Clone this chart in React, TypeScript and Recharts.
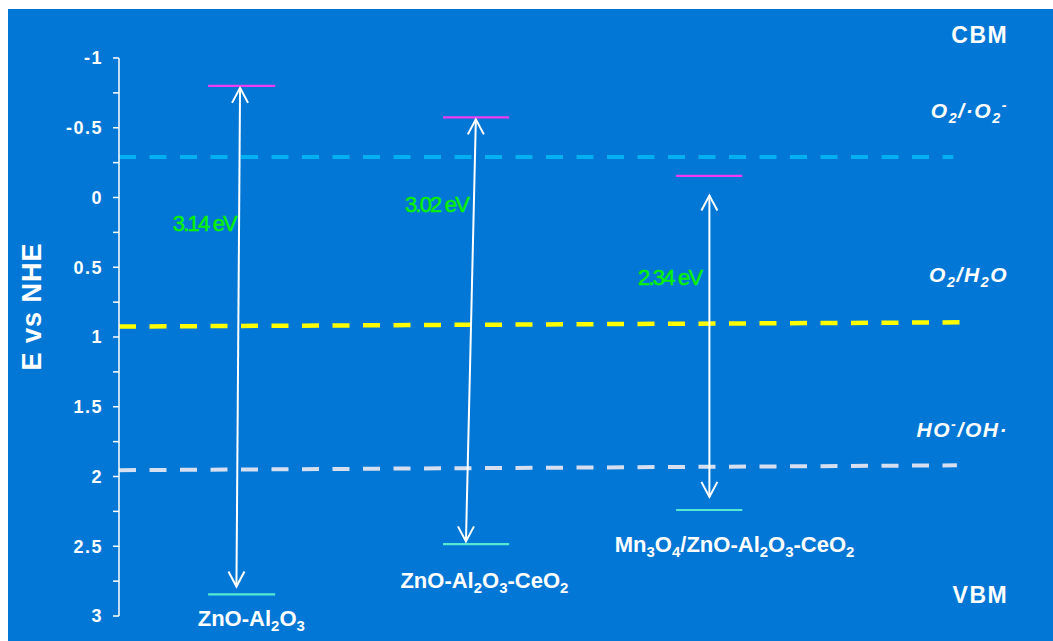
import React from "react";
import { ComposedChart, Line, XAxis, YAxis, ReferenceDot, Label } from "recharts";

// ---------- data ----------
const materials = ["ZnO-Al2O3", "ZnO-Al2O3-CeO2", "Mn3O4/ZnO-Al2O3-CeO2"];
const cbEdges = [-0.8, -0.575, -0.155];
const vbEdges = [2.845, 2.485, 2.24];
const levelFrom = [9.9, 36.0, 61.9];
const levelTo = [17.35, 43.35, 69.25];
const bandGaps = ["3.14 eV", "3.02 eV", "2.34 eV"];
const arrowTopX = [13.45, 39.65, 65.6];
const arrowTopY = [-0.786, -0.56, -0.014];
const arrowBottomX = [13.05, 38.55, 65.6];
const arrowBottomY = [2.789, 2.465, 2.146];
const gapLabelX = [13.0, 38.8, 64.7];
const gapLabelY = [0.243, 0.101, 0.625];
const materialLabelX = [14.7, 40.6, 68.4];
const materialLabelY = [3.071, 2.798, 2.54];

const redoxNames = ["O2/·O2-", "O2/H2O", "HO-/OH·"];
const redoxStartY = [-0.29, 0.925, 1.955];
const redoxEndY = [-0.29, 0.895, 1.92];
const redoxEndX = [92.7, 93.4, 93.1];
const redoxLabelY = [-0.573, 0.603, 1.716];
const edgeNames = ["CBM", "VBM"];
const edgeLabelY = [-1.104, 2.908];
const sideLabelX = 98.8;

const yTicks = [-1, -0.75, -0.5, -0.25, 0, 0.25, 0.5, 0.75, 1, 1.25, 1.5, 1.75, 2, 2.25, 2.5, 2.75, 3];
const majorTicks = [-1, -0.5, 0, 0.5, 1, 1.5, 2, 2.5, 3];

// ---------- styles ----------
const BG = "#0377d5";
const FONT = "'Liberation Sans', Arial, sans-serif";
const redoxColors = ["#00b0f0", "#ffff00", "#d6dff0"];
const redoxWidths = [4, 4.5, 4];
const CB_COLOR = "#f03cf0";
const VB_COLOR = "#55e8d2";
const GREEN = "#08f008";

function richSpans(text: string, size: number, supMinus: boolean) {
  const groups: { mode: string; s: string }[] = [];
  for (const ch of text) {
    let mode = "n";
    if (/[0-9]/.test(ch)) mode = "sub";
    else if (ch === "-" && supMinus) mode = "sup";
    const last = groups[groups.length - 1];
    if (last && last.mode === mode) last.s += ch;
    else groups.push({ mode, s: ch });
  }
  let cur = 0;
  return groups.map((g, i) => {
    const target = g.mode === "sub" ? size * 0.25 : g.mode === "sup" ? -size * 0.38 : 0;
    const dy = target - cur;
    cur = target;
    return (
      <tspan key={i} dy={dy} fontSize={g.mode === "n" ? size : size * 0.68}>
        {g.s}
      </tspan>
    );
  });
}

const renderTick = (props: any) => {
  const { x, y, payload } = props;
  if (!majorTicks.includes(payload.value)) return <g />;
  return (
    <text
      x={x}
      y={y}
      dy="0.36em"
      textAnchor="end"
      fill="#ffffff"
      fontWeight="bold"
      fontSize={18}
      letterSpacing={1.5}
      fontFamily={FONT}
    >
      {String(payload.value)}
    </text>
  );
};

const arrowDot = (props: any) => {
  const { cx, cy, index } = props;
  const s = index === 0 ? 1 : -1;
  return (
    <path
      key={`ah${index}`}
      d={`M${cx - 8},${cy + 15 * s} L${cx},${cy} L${cx + 8},${cy + 15 * s}`}
      fill="none"
      stroke="#ffffff"
      strokeWidth={2}
    />
  );
};

export default function App() {
  return (
    <div style={{ paddingLeft: 8, paddingTop: 9, background: "#ffffff", width: 1053, height: 641, boxSizing: "border-box" }}>
      <style>{`body{margin:0;overflow:hidden;}`}</style>
      <div style={{ width: 1045, height: 632, background: BG }}>
        <ComposedChart width={1045} height={632} margin={{ top: 49, right: 34, bottom: 25, left: 0 }}>
          <XAxis type="number" dataKey="x" domain={[0, 100]} hide />
          <YAxis
            type="number"
            dataKey="y"
            domain={[-1, 3]}
            reversed
            ticks={yTicks}
            interval={0}
            width={111}
            tick={renderTick}
            tickSize={6}
            tickMargin={10}
            axisLine={{ stroke: "#ffffff", strokeWidth: 1.5 }}
            tickLine={{ stroke: "#ffffff", strokeWidth: 1.5 }}
          >
            <Label
              content={() => (
                <text
                  x={33.3}
                  y={297.5}
                  transform="rotate(-90 33.3 297.5)"
                  textAnchor="middle"
                  fill="#ffffff"
                  fontWeight="bold"
                  fontSize={27}
                  letterSpacing={1}
                  fontFamily={FONT}
                >
                  E vs NHE
                </text>
              )}
            />
          </YAxis>

          {redoxNames.map((n, i) => (
            <Line
              key={`redox${i}`}
              data={[
                { x: 0, y: redoxStartY[i] },
                { x: redoxEndX[i], y: redoxEndY[i] },
              ]}
              dataKey="y"
              type="linear"
              stroke={redoxColors[i]}
              strokeWidth={redoxWidths[i]}
              strokeDasharray="17 13.5"
              dot={false}
              activeDot={false}
              isAnimationActive={false}
            />
          ))}

          {materials.map((m, i) => (
            <Line
              key={`cb${i}`}
              data={[
                { x: levelFrom[i], y: cbEdges[i] },
                { x: levelTo[i], y: cbEdges[i] },
              ]}
              dataKey="y"
              type="linear"
              stroke={CB_COLOR}
              strokeWidth={2.2}
              dot={false}
              activeDot={false}
              isAnimationActive={false}
            />
          ))}
          {materials.map((m, i) => (
            <Line
              key={`vb${i}`}
              data={[
                { x: levelFrom[i], y: vbEdges[i] },
                { x: levelTo[i], y: vbEdges[i] },
              ]}
              dataKey="y"
              type="linear"
              stroke={VB_COLOR}
              strokeWidth={2.2}
              dot={false}
              activeDot={false}
              isAnimationActive={false}
            />
          ))}
          {materials.map((m, i) => (
            <Line
              key={`arrow${i}`}
              data={[
                { x: arrowTopX[i], y: arrowTopY[i] },
                { x: arrowBottomX[i], y: arrowBottomY[i] },
              ]}
              dataKey="y"
              type="linear"
              stroke="#ffffff"
              strokeWidth={2}
              dot={arrowDot}
              activeDot={false}
              isAnimationActive={false}
            />
          ))}

          {bandGaps.map((g, i) => (
            <ReferenceDot
              key={`gap${i}`}
              x={gapLabelX[i]}
              y={gapLabelY[i]}
              ifOverflow="visible"
              shape={(p: any) => (
                <text
                  x={p.cx}
                  y={p.cy}
                  textAnchor="end"
                  fill={GREEN}
                  stroke={GREEN}
                  strokeWidth={0.5}
                  fontSize={22}
                  letterSpacing={-1.8}
                  fontFamily={FONT}
                >
                  {g}
                </text>
              )}
            />
          ))}

          {materials.map((m, i) => (
            <ReferenceDot
              key={`mat${i}`}
              x={materialLabelX[i]}
              y={materialLabelY[i]}
              ifOverflow="visible"
              shape={(p: any) => (
                <text
                  x={p.cx}
                  y={p.cy}
                  textAnchor="middle"
                  fill="#ffffff"
                  fontWeight="bold"
                  fontSize={22}
                  fontFamily={FONT}
                >
                  {richSpans(m, 22, false)}
                </text>
              )}
            />
          ))}

          {redoxNames.map((n, i) => (
            <ReferenceDot
              key={`rl${i}`}
              x={sideLabelX}
              y={redoxLabelY[i]}
              ifOverflow="visible"
              shape={(p: any) => (
                <text
                  x={p.cx}
                  y={p.cy}
                  textAnchor="end"
                  fill="#ffffff"
                  fontWeight="bold"
                  fontStyle="italic"
                  fontSize={21}
                  letterSpacing={1.6}
                  fontFamily={FONT}
                >
                  {richSpans(n, 21, true)}
                </text>
              )}
            />
          ))}

          {edgeNames.map((n, i) => (
            <ReferenceDot
              key={`edge${i}`}
              x={sideLabelX}
              y={edgeLabelY[i]}
              ifOverflow="visible"
              shape={(p: any) => (
                <text
                  x={p.cx}
                  y={p.cy}
                  textAnchor="end"
                  fill="#ffffff"
                  fontWeight="bold"
                  fontSize={23}
                  letterSpacing={1.5}
                  fontFamily={FONT}
                >
                  {n}
                </text>
              )}
            />
          ))}
        </ComposedChart>
      </div>
    </div>
  );
}
